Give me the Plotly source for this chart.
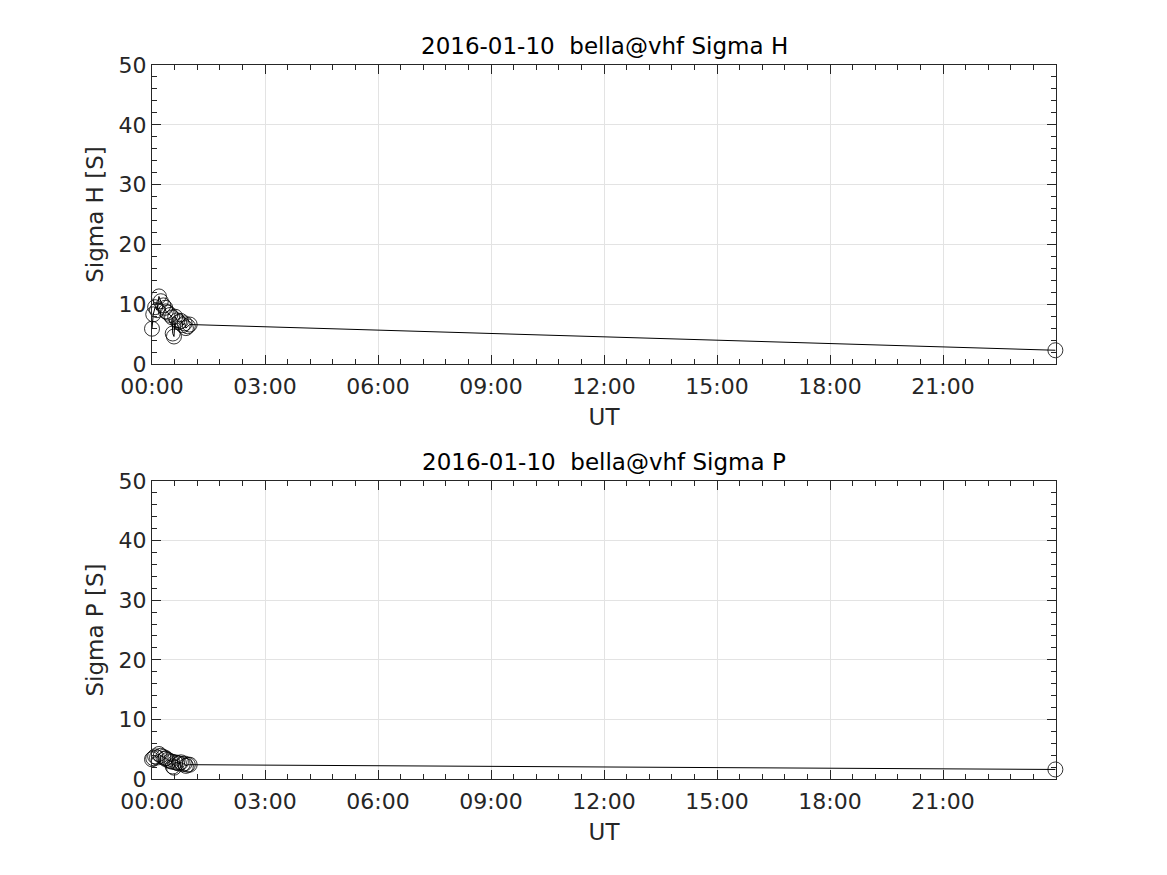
import plotly.graph_objects as go

date_label = "2016-01-10"
station = "bella@vhf"

# times in minutes after 00:00 UT
times_min = [0, 2, 5, 8, 11, 14, 18, 21, 22, 25, 29, 32, 33, 35, 37, 40, 43, 46, 49, 52, 54, 57, 60, 1439]
sigma_h = [5.9, 8.3, 9.5, 9.0, 11.3, 10.5, 9.8, 9.4, 8.8, 8.6, 8.2, 7.8, 5.1, 4.6, 7.9, 7.3, 7.0, 7.2, 6.5, 6.8, 6.0, 6.3, 6.6, 2.3]
sigma_p = [3.3, 3.5, 3.8, 3.6, 4.2, 3.9, 3.7, 3.4, 3.5, 3.2, 3.0, 2.9, 2.1, 1.9, 2.8, 2.7, 2.6, 2.8, 2.5, 2.6, 2.2, 2.4, 2.4, 1.6]

tick_hours = [0, 3, 6, 9, 12, 15, 18, 21]
tick_labels = ["00:00", "03:00", "06:00", "09:00", "12:00", "15:00", "18:00", "21:00"]

x_hours = [t / 60.0 for t in times_min]

# page body has an 8px margin, so the figure is made 8px smaller each way
W, H = 1159, 867
ml, mt = 144, 57
pw, ph = 904, 714
mr = W - ml - pw
mb = H - mt - ph
top_lo = (779 - 364) / ph
bot_hi = (779 - 481) / ph

fig = go.Figure()
axc = "#262626"
tfont = dict(family="DejaVu Sans", size=22, color=axc)
lfont = dict(family="DejaVu Sans", size=23, color=axc)
hfont = dict(family="DejaVu Sans", size=23, color="black")

for yv, xa, ya in [(sigma_h, "x", "y"), (sigma_p, "x2", "y2")]:
    fig.add_trace(go.Scatter(
        x=x_hours, y=yv, xaxis=xa, yaxis=ya, mode="lines+markers",
        line=dict(color="black", width=1),
        marker=dict(symbol="circle-open", size=15, color="black", line=dict(width=0.8)),
        showlegend=False, cliponaxis=False))

def xaxis_cfg(anchor):
    return dict(anchor=anchor, range=[0, 24], tickvals=tick_hours, ticktext=tick_labels,
                ticks="inside", ticklen=9, tickcolor=axc, showline=True, linecolor=axc,
                linewidth=1, mirror="allticks", showgrid=True, gridcolor="#e3e3e3",
                zeroline=False, tickfont=tfont, ticklabelstandoff=3,
                minor=dict(dtick=0.6, ticks="inside", ticklen=5, tickcolor=axc, showgrid=False),
                title=dict(text="UT", font=lfont, standoff=10))

def yaxis_cfg(anchor, dom, title):
    return dict(anchor=anchor, domain=dom, range=[0, 50], dtick=10,
                ticks="inside", ticklen=9, tickcolor=axc, showline=True, linecolor=axc,
                linewidth=1, mirror="allticks", showgrid=True, gridcolor="#e3e3e3",
                zeroline=False, tickfont=tfont,
                minor=dict(dtick=2, ticks="inside", ticklen=5, tickcolor=axc, showgrid=False),
                title=dict(text=title, font=lfont, standoff=8))

fig.update_layout(
    width=W, height=H, plot_bgcolor="white", paper_bgcolor="white",
    margin=dict(l=ml, r=mr, t=mt, b=mb),
    xaxis=xaxis_cfg("y"), yaxis=yaxis_cfg("x", [top_lo, 1], "Sigma H [S]"),
    xaxis2=xaxis_cfg("y2"), yaxis2=yaxis_cfg("x2", [0, bot_hi], "Sigma P [S]"),
    annotations=[
        dict(text=f"{date_label}  {station} Sigma H", xref="paper", yref="paper",
             x=0.5, y=1, yanchor="bottom", yshift=4, showarrow=False, font=hfont),
        dict(text=f"{date_label}  {station} Sigma P", xref="paper", yref="paper",
             x=0.5, y=bot_hi, yanchor="bottom", yshift=4, showarrow=False, font=hfont),
    ],
)

fig.write_html("out.html")
